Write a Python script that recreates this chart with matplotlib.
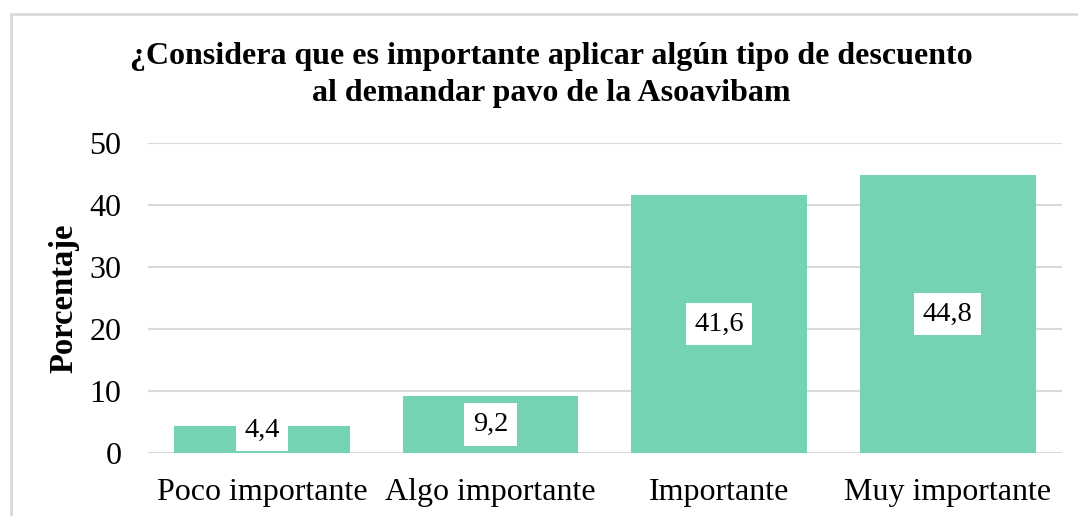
import matplotlib.pyplot as plt
from matplotlib.patches import Rectangle

categorias = ['Poco importante', 'Algo importante', 'Importante', 'Muy importante']
porcentajes = [4.4, 9.2, 41.6, 44.8]
etiquetas = ['4,4', '9,2', '41,6', '44,8']
yticks = [0, 10, 20, 30, 40, 50]

plt.rcParams['font.family'] = ['Liberation Serif', 'DejaVu Serif']

fig = plt.figure(figsize=(10.78, 5.16), dpi=100)
ax = fig.add_axes([0.137, 0.122, 0.848, 0.601])

# marco gris del grafico
fig.patches.append(Rectangle((11 / 1078, -0.1), 1.2, 1 - 14 / 516 + 0.1,
                             transform=fig.transFigure, fill=False,
                             edgecolor='#d9d9d9', lw=2))

x = range(len(categorias))
ax.bar(x, porcentajes, width=0.77, color='#74d3b0', zorder=3)

for i, v in enumerate(porcentajes):
    ax.text(i, max(v / 2, 3.7), etiquetas[i], ha='center', va='center',
            fontsize=20.5, zorder=4,
            bbox=dict(boxstyle='square,pad=0.3', facecolor='white', edgecolor='none'))

ax.set_xlim(-0.5, 3.5)
ax.set_ylim(0, 50)
ax.set_yticks(yticks)
ax.set_xticks(list(x))
ax.set_xticklabels(categorias)
ax.tick_params(axis='both', length=0, labelsize=23)
ax.tick_params(axis='y', pad=19)
ax.tick_params(axis='x', pad=18)
ax.grid(axis='y', color='#d9d9d9', lw=1.5, zorder=0)
for s in ax.spines.values():
    s.set_visible(False)

ax.set_ylabel('Porcentaje', fontsize=23.5, fontweight='bold')
ax.yaxis.set_label_coords(-0.075, 0.50)

fig.text(0.511, 0.855, '¿Considera que es importante aplicar algún tipo de descuento\nal demandar pavo de la Asoavibam',
         ha='center', va='center', fontsize=23, fontweight='bold', linespacing=1.38)

fig.savefig('out.png', dpi=100)
